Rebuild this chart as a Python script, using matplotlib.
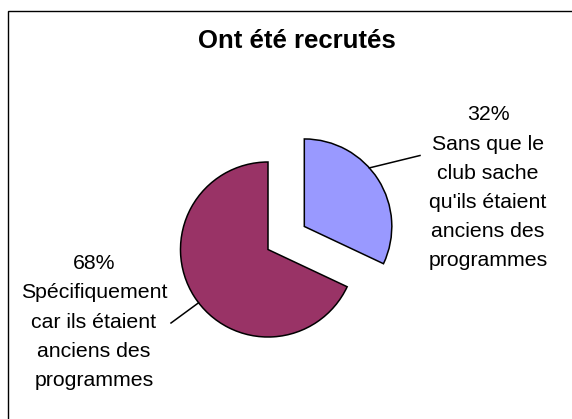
import numpy as np
import matplotlib
matplotlib.use("Agg")
import matplotlib.pyplot as plt

plt.rcParams['font.family'] = ['Liberation Sans', 'DejaVu Sans']

title = "Ont été recrutés"
categories = ["Sans que le\nclub sache\nqu'ils étaient\nanciens des\nprogrammes",
              "Spécifiquement\ncar ils étaient\nanciens des\nprogrammes"]
values = [32, 68]
colors = ["#9999FF", "#993366"]

W, H = 572, 419
fig = plt.figure(figsize=(W / 100, H / 100), dpi=100)
ax = fig.add_axes([0, 0, 1, 1])

# frame (chart area border, extends beyond the crop)
ax.plot([8, 8, W + 5], [-5, H - 11, H - 11], color='black', lw=1.0, solid_joinstyle='miter')

center = (268, 169.5)
radius = 87.5
explode = [43, 0]
wedges, _ = ax.pie(values, colors=colors, startangle=90, counterclock=False,
                   center=center, radius=radius, explode=explode, frame=True,
                   wedgeprops=dict(edgecolor='black', linewidth=1.1))
ax.set_xlim(0, W)
ax.set_ylim(0, H)
ax.set_aspect('equal')
ax.axis('off')

fig.text(297 / W, 1 - 40.5 / H, title, ha='center', va='center', fontsize=18.5, fontweight='bold')

total = sum(values)
pcts = [f"{round(v / total * 100)}%" for v in values]

# labels + leader lines
label_pos = [(488, H - 188), (94, H - 322)]
leader_angles = [42.0, 217.5]
leader_ends = [(420, H - 155.5), (171, H - 323)]
for w, cat, pct, lp, ang, le in zip(wedges, categories, pcts, label_pos, leader_angles, leader_ends):
    cx, cy = w.center
    r = w.r
    sx = cx + r * np.cos(np.radians(ang))
    sy = cy + r * np.sin(np.radians(ang))
    ax.plot([sx, le[0]], [sy, le[1]], color='black', lw=1.1)
    ax.text(lp[0], lp[1], pct + "\n" + cat, ha='center', va='center', fontsize=15.3,
            linespacing=1.68, multialignment='center')

fig.savefig("out.png", dpi=100)
